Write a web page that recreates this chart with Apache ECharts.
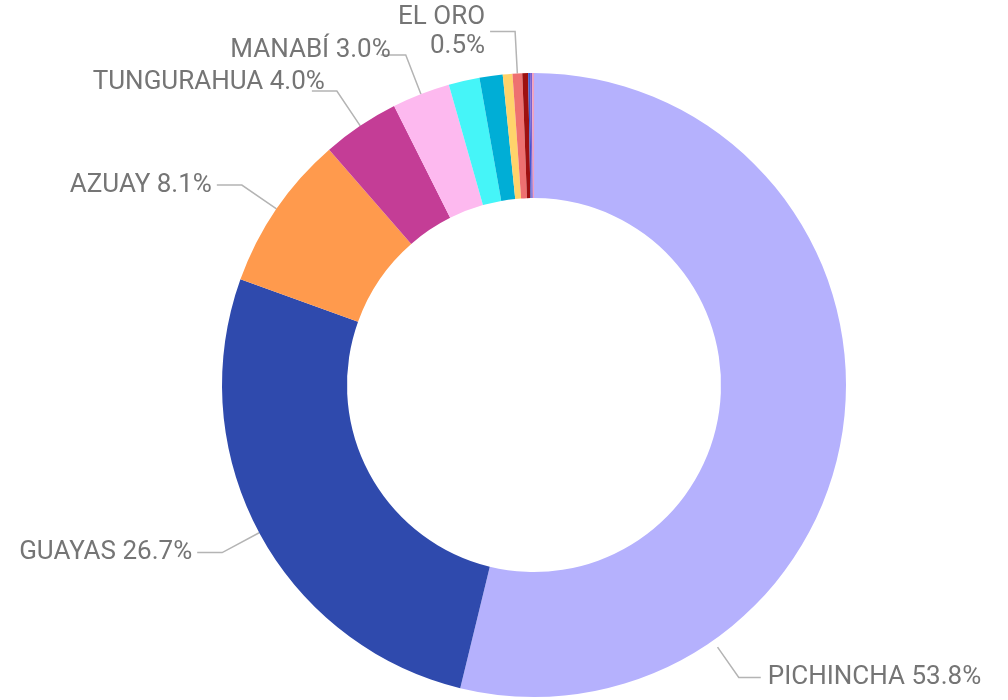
<!DOCTYPE html>
<html>
<head>
<meta charset="utf-8">
<script src="https://cdn.jsdelivr.net/npm/echarts@6/dist/echarts.min.js"></script>
<style>
  html,body{margin:0;padding:0;background:#fff;}
  #chart{width:1008px;height:700px;}
</style>
</head>
<body>
<div id="chart"></div>
<script>
// provinces, clockwise from 12 o'clock
var provinces = ['PICHINCHA','GUAYAS','AZUAY','TUNGURAHUA','MANABÍ','IMBABURA','LOJA','COTOPAXI','EL ORO','CHIMBORAZO','SANTO DOMINGO','ESMERALDAS','SANTA ELENA'];
var shares = [53.8, 26.7, 8.1, 4.0, 3.0, 1.6, 1.2, 0.5, 0.5, 0.3, 0.1, 0.1, 0.1];
var colors = ['#b5b1fd','#2f4aad','#ff9a4d','#c43d96','#fdb9ef','#45f5f8','#00aed6','#ffd36b','#ee7070','#9e1010','#3f5ad0','#7a5fd0','#f0a0c0'];
var labelled = ['PICHINCHA','GUAYAS','AZUAY','TUNGURAHUA','MANABÍ','EL ORO'];

var font = "Roboto, 'DejaVu Sans', sans-serif";
var cx = 534, cy = 385, r0 = 187, r1 = 312;
var lineColor = '#b4b4b4';

// leader for the big slice: it is drawn at the lower right, not at the slice middle
var bigAngle = 145 * Math.PI / 180;
function polar(r){ return [cx + r * Math.sin(bigAngle), cy - r * Math.cos(bigAngle)]; }
var p1 = polar(r1 + 8), p2 = polar(r1 + 45), p3 = [p2[0] + 22, p2[1]];

var chart = echarts.init(document.getElementById('chart'));

var data = provinces.map(function(name, i){
  var item = { name: name, value: shares[i], itemStyle: { color: colors[i] } };
  if (labelled.indexOf(name) < 0) {
    item.label = { show: false };
    item.labelLine = { show: false };
  }
  if (name === 'EL ORO') {
    item.label = { formatter: function(p){ return p.name + '\n' + p.percent.toFixed(1) + '%'; }, align: 'right' };
  }
  if (name === 'PICHINCHA') {
    item.label = { overflow: 'none', width: 300 };
    item.labelLine = { show: false };
  }
  return item;
});

chart.setOption({
  animation: false,
  graphic: [{
    type: 'polyline',
    shape: { points: [p1, p2, p3] },
    style: { stroke: lineColor, lineWidth: 1.5, fill: null }
  }],
  series: [{
    type: 'pie',
    center: [cx, cy],
    radius: [r0, r1],
    startAngle: 90,
    clockwise: true,
    avoidLabelOverlap: false,
    label: {
      show: true,
      position: 'outside',
      formatter: function(p){ return p.name + ' ' + p.percent.toFixed(1) + '%'; },
      color: '#757575',
      fontSize: 26,
      fontFamily: font,
      lineHeight: 29
    },
    labelLine: {
      show: true,
      length: 42,
      length2: 25,
      lineStyle: { color: lineColor, width: 1.5 }
    },
    labelLayout: function(p){
      if (p.dataIndex === 0) {
        return { x: p3[0] + 7, y: p3[1], align: 'left', verticalAlign: 'middle' };
      }
      if (p.dataIndex === 3) return { dx: 18, dy: -8 };
      if (p.dataIndex === 4) return { dx: 15, dy: -5 };
    },
    itemStyle: { borderWidth: 0 },
    data: data
  }]
});
</script>
</body>
</html>
